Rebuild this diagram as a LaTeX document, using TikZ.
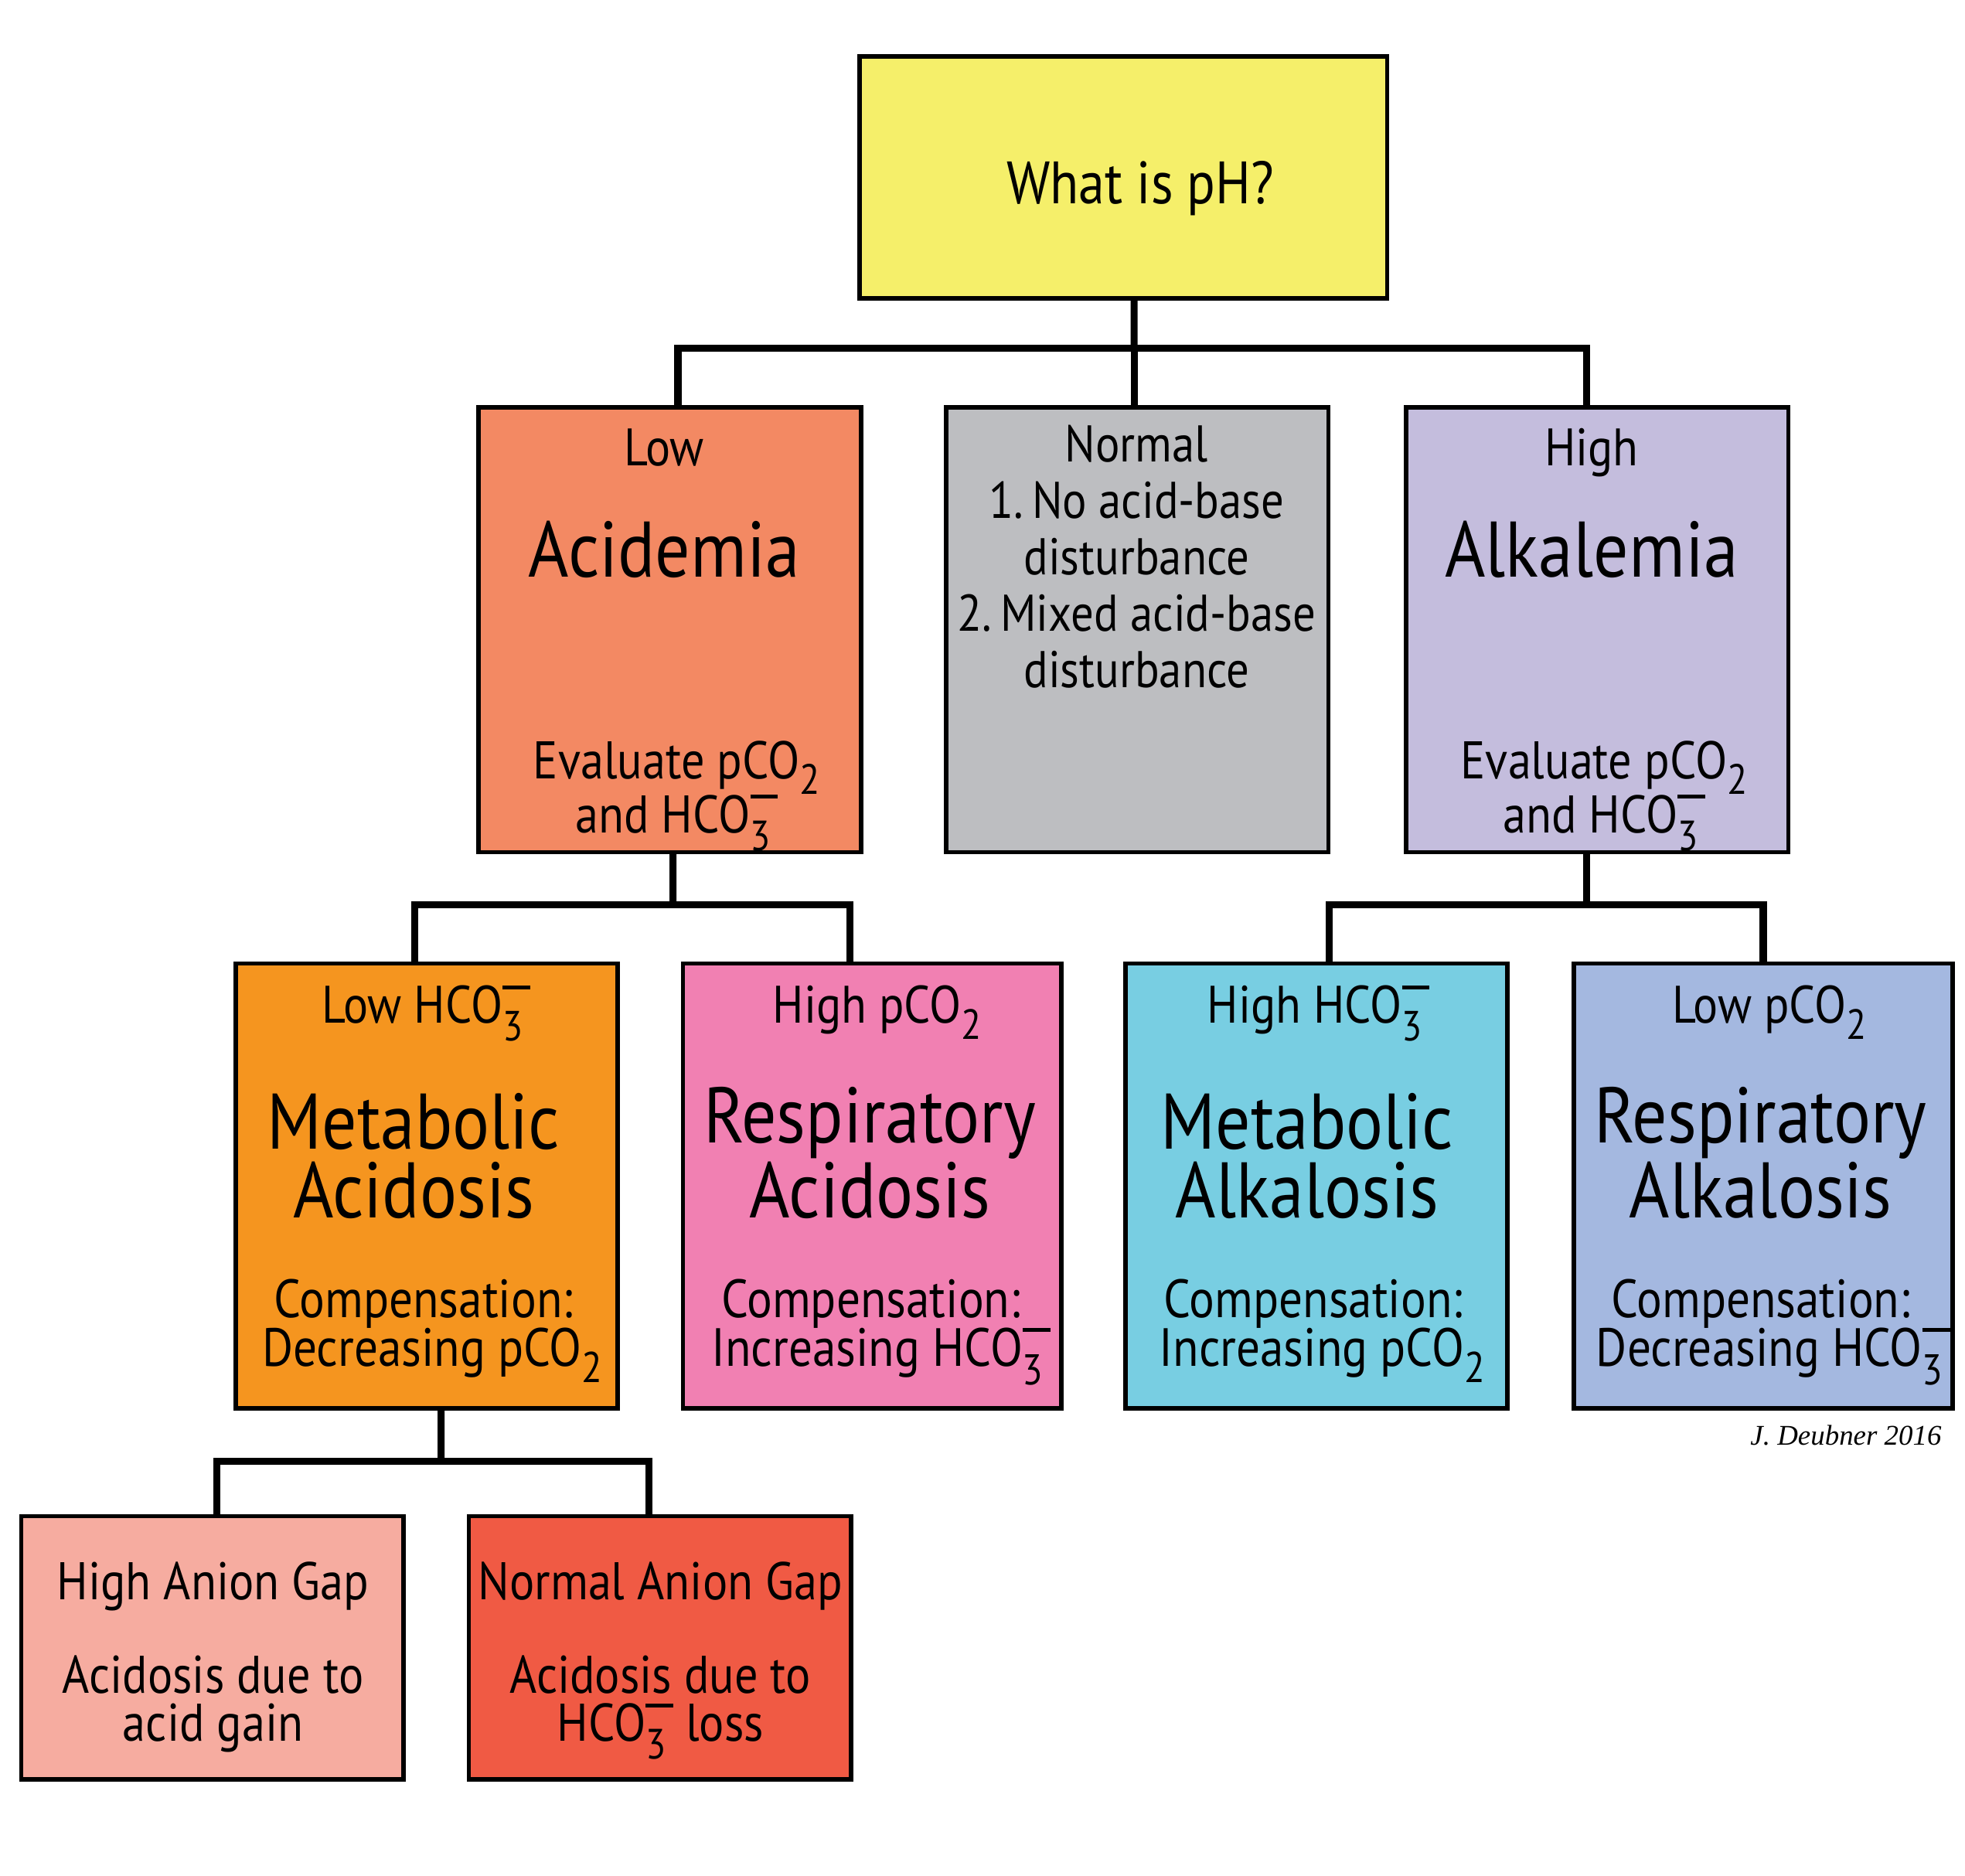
\documentclass[tikz,border=0pt]{standalone}
\usepackage{fontspec}
\usepackage{graphicx}
\setmainfont[FakeStretch=0.88]{PT Sans}
\newfontfamily\sigfont{Liberation Serif}
\usetikzlibrary{fit,calc}
\newcommand{\hcothree}{HCO\rlap{\raisebox{-0.34em}{\scalebox{0.8}{3}}}\raisebox{0.64em}{\rule{0.52em}{0.07em}}}
\newcommand{\pcotwo}{pCO\raisebox{-0.3em}{\scalebox{0.8}{2}}}
\definecolor{cyel}{RGB}{245,239,106}
\definecolor{cacid}{RGB}{243,137,99}
\definecolor{cnorm}{RGB}{189,190,193}
\definecolor{calk}{RGB}{196,189,221}
\definecolor{cmacid}{RGB}{245,149,31}
\definecolor{cracid}{RGB}{241,128,178}
\definecolor{cmalk}{RGB}{120,206,226}
\definecolor{cralk}{RGB}{164,184,224}
\definecolor{chag}{RGB}{246,172,160}
\definecolor{cnag}{RGB}{240,90,68}
\tikzset{
  boxst/.style={draw=black, line width=1.6pt, inner sep=0pt},
  conn/.style={line width=2.6pt, draw=black},
  txt/.style={inner sep=0pt, anchor=mid, text=black},
  fsmall/.style={font=\fontsize{19.4}{21}\selectfont},
  flist/.style={font=\fontsize{19}{21}\selectfont, text depth=0pt},
  fev/.style={font=\fontsize{19.5}{21}\selectfont},
  fmid/.style={font=\fontsize{19.8}{21}\selectfont},
  fbig/.style={font=\fontsize{29}{31}\selectfont, text depth=0pt},
  fbigtwo/.style={inner sep=0pt, anchor=base, text=black, align=center, font=\fontsize{29}{25.4}\selectfont},
  fbottwo/.style={inner sep=0pt, anchor=base, text=black, align=center, font=\fontsize{19.5}{17.5}\selectfont},
  ftitle/.style={font=\fontsize{22}{24}\selectfont},
  fbot/.style={font=\fontsize{19.5}{21}\selectfont, text depth=0pt},
}
\begin{document}
\begin{tikzpicture}[x=0.1621mm, y=-0.1621mm]
\useasboundingbox (0,0) rectangle (1568,1497);
\fill[white] (0,0) rectangle (1568,1497);
% boxes
\node[boxst, fill=cyel, fit={(686,45) (1107,238)}] (top) {};
\node[boxst, fill=cacid, fit={(382,325) (687,680)}] (acid) {};
\node[boxst, fill=cnorm, fit={(755,325) (1060,680)}] (norm) {};
\node[boxst, fill=calk, fit={(1122,325) (1427,680)}] (alk) {};
\node[boxst, fill=cmacid, fit={(188,769) (493,1124)}] (macid) {};
\node[boxst, fill=cracid, fit={(545,769) (847,1124)}] (racid) {};
\node[boxst, fill=cmalk, fit={(898,769) (1203,1124)}] (malk) {};
\node[boxst, fill=cralk, fit={(1256,769) (1558,1124)}] (ralk) {};
\node[boxst, fill=chag, fit={(17,1210) (322,1420)}] (hag) {};
\node[boxst, fill=cnag, fit={(374,1210) (679,1420)}] (nag) {};
% connectors
\coordinate (j1) at (905,278);
\coordinate (j2) at (537,722);
\coordinate (j3) at (1266,722);
\coordinate (j4) at (352,1166);
\draw[conn] ($(top.south)+(8.5,0)$) -- (j1);
\draw[conn] ($(acid.north)+(6.5,0)$) |- (j1) -| ($(alk.north)+(-8.5,0)$);
\draw[conn] (j1) -- ($(norm.north)+(-2.5,0)$);
\draw[conn] ($(acid.south)+(2.5,0)$) -- (j2);
\draw[conn] ($(macid.north)+(-9.5,0)$) |- (j2) -| ($(racid.north)+(-18,0)$);
\draw[conn] ($(alk.south)+(-8.5,0)$) -- (j3);
\draw[conn] ($(malk.north)+(10,0)$) |- (j3) -| ($(ralk.north)+(0,0)$);
\draw[conn] ($(macid.south)+(11.5,0)$) -- (j4);
\draw[conn] ($(hag.north)+(3.5,0)$) |- (j4) -| ($(nag.north)+(-8.5,0)$);
% texts
\node[txt, ftitle] (t0) at (910,157) {What is pH?};
\node[txt, fsmall] (a1) at (530,366) {Low};
\node[txt, fbig] (a2) at (530,455) {Acidemia};
\node[txt, fev] (a3) at (540,616) {Evaluate \pcotwo};
\node[txt, fev] (a4) at (540,659) {and \hcothree};
\node[txt, flist] (n1) at (907,363) {Normal};
\node[txt, flist] (n2) at (907,408) {1.\,No acid-base};
\node[txt, flist] (n3) at (907,453) {disturbance};
\node[txt, flist] (n4) at (907,498) {2.\,Mixed acid-base};
\node[txt, flist] (n5) at (907,543) {disturbance};
\node[txt, fsmall] (k1) at (1270,366) {High};
\node[txt, fbig] (k2) at (1270,455) {Alkalemia};
\node[txt, fev] (k3) at (1280,616) {Evaluate \pcotwo};
\node[txt, fev] (k4) at (1280,659) {and \hcothree};
\node[txt, fsmall] (m1) at (340,811) {Low \hcothree};
\node[fbigtwo] (m2) at (330,972) {Metabolic\\Acidosis};
\node[txt, fmid] (m4) at (338,1046) {Compensation:};
\node[txt, fmid] (m5) at (345,1085) {Decreasing \pcotwo};
\node[txt, fsmall] (r1) at (700,811) {High \pcotwo};
\node[fbigtwo] (r2) at (694,972) {Respiratory\\Acidosis};
\node[txt, fmid] (r4) at (695,1046) {Compensation:};
\node[txt, fmid] (r5) at (703,1085) {Increasing \hcothree};
\node[txt, fsmall] (p1) at (1052,811) {High \hcothree};
\node[fbigtwo] (p2) at (1043,972) {Metabolic\\Alkalosis};
\node[txt, fmid] (p4) at (1048,1046) {Compensation:};
\node[txt, fmid] (p5) at (1055,1085) {Increasing \pcotwo};
\node[txt, fsmall] (q1) at (1412,811) {Low \pcotwo};
\node[fbigtwo] (q2) at (1405,972) {Respiratory\\Alkalosis};
\node[txt, fmid] (q4) at (1405,1046) {Compensation:};
\node[txt, fmid] (q5) at (1415,1085) {Decreasing \hcothree};
\node[txt, fbot] (h1) at (170,1271) {High Anion Gap};
\node[txt, fbot] (h2) at (170,1346) {Acidosis due to};
\node[txt, fbot] (h3) at (170,1384) {acid gain};
\node[txt, fbot] (g1) at (527,1271) {Normal Anion Gap};
\node[txt, fbot] (g2) at (527,1346) {Acidosis due to};
\node[txt, fbot] (g3) at (527,1384) {\hcothree\ loss};
\node[txt, font=\fontsize{10.5}{12}\selectfont\sigfont\itshape] (sig) at (1473,1148) {J. Deubner 2016};
\end{tikzpicture}
\end{document}
